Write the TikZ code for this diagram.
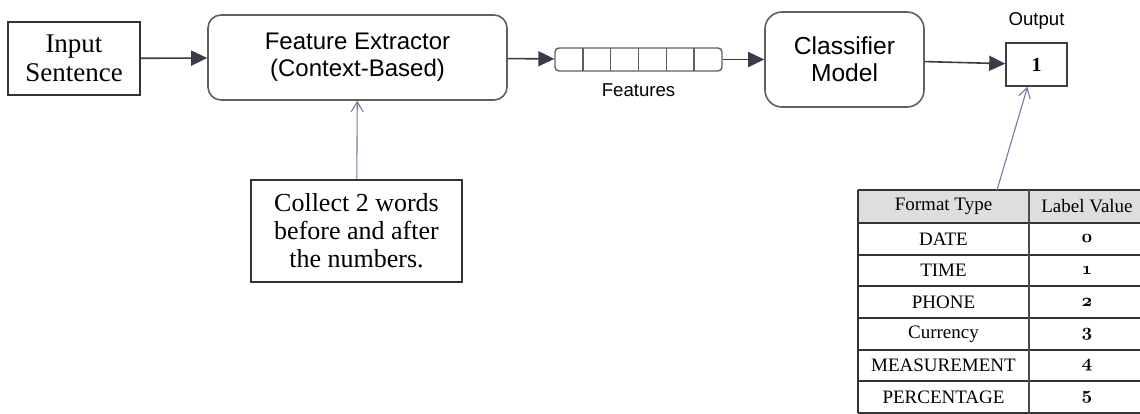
\documentclass[tikz,border=0pt]{standalone}
\usepackage{fontspec}
\setmainfont{Liberation Serif}
\setsansfont{Liberation Sans}
\usetikzlibrary{arrows.meta,positioning}
\definecolor{boxgray}{RGB}{95,95,95}
\definecolor{linkdark}{RGB}{58,58,72}
\definecolor{linkthin}{RGB}{120,120,160}
\definecolor{headgray}{RGB}{222,222,222}
\newcommand{\onum}[1]{{\usefont{OML}{cmm}{b}{it}#1}}

\begin{document}
\begin{tikzpicture}[x=0.5pt, y=-0.5pt, node distance=6pt,
  flow/.style = {-{Triangle[length=8pt,width=7.5pt]}, linkdark, line width=0.8pt},
  hint/.style = {-{Straight Barb[length=5pt,width=6pt]}, linkthin, line width=0.55pt},
  plain/.style = {rectangle, draw=black!80, line width=0.8pt, align=center, font=\fontsize{13.5}{14.5}\selectfont},
  soft/.style = {rectangle, draw=boxgray, line width=0.8pt, align=center, font=\sffamily\fontsize{12}{13.5}\selectfont},
  tag/.style = {inner sep=0pt, font=\sffamily\fontsize{9.3}{11}\selectfont},
  cell/.style = {font=\fontsize{9.5}{11}\selectfont}]
  \useasboundingbox (0,0) rectangle (1140,413);
  \node[plain, minimum width=66pt, minimum height=36.5pt] (input) at (74,58.5) {Input\\Sentence};
  \node[soft, rounded corners=6.5pt, minimum width=149.5pt, minimum height=42.5pt] (extractor) at (357.5,57.5) {Feature Extractor\\(Context-Based)};
  \node[rectangle, draw=boxgray, line width=0.7pt, rounded corners=2pt, minimum width=83.5pt, minimum height=11.5pt] (vec) at (638.5,59.5) {};
  \foreach \k in {1,...,5}
    \draw[boxgray, line width=0.7pt] (555+27.83*\k,48) -- (555+27.83*\k,71);
  \node[tag, below=6pt of vec] (featlbl) {Features};
  \node[soft, rounded corners=8.5pt, minimum width=79.5pt, minimum height=47.5pt, font=\sffamily\fontsize{12.3}{13.5}\selectfont] (classifier) at (844.5,59.5) {Classifier\\Model};
  \node[rectangle, draw=black!75, line width=0.8pt, minimum width=30.5pt, minimum height=21.5pt, font=\bfseries\fontsize{10}{12}\selectfont] (output) at (1036.5,64.5) {1};
  \node[tag, above=6pt of output] (outlbl) {Output};
  \node[plain, minimum width=105.5pt, minimum height=51pt, font=\fontsize{13}{14}\selectfont] (collect) at (356.5,231) {Collect 2 words\\before and after\\the numbers.};

  \fill[headgray] (858,190) rectangle (1146,223);
  \foreach \yy in {190,223,254.7,286.3,318,349.7,381.3,413}
    \draw[black!80, line width=1pt] (858,\yy) -- (1146,\yy);
  \draw[black!80, line width=0.8pt] (858,190) -- (858,413);
  \draw[black!70, line width=0.8pt] (1029,190) -- (1029,413);
  \node[cell] (fmthead) at (943.5,206.5) {Format Type};
  \node[cell] (labhead) at (1087,206.5) {Label Value};
  \foreach \name/\val [count=\i] in {DATE/0,TIME/1,PHONE/2,Currency/3,MEASUREMENT/4,PERCENTAGE/5} {
    \node[cell] (fmt\i) at (943.5,{223+31.67*(\i-0.5)}) {\name};
    \node[cell] (lab\i) at (1087,{223+31.67*(\i-0.5)}) {\onum{\val}};
  }
  \coordinate (fmttop) at (997,190);

  \path
    (input) edge[flow] (extractor)
    (extractor) edge[flow] (vec)
    (vec) edge[flow] (classifier)
    (classifier) edge[flow] (output)
    (collect) edge[hint] (extractor)
    (fmttop) edge[hint] ([xshift=-4.5pt]output.south);
\end{tikzpicture}
\end{document}
